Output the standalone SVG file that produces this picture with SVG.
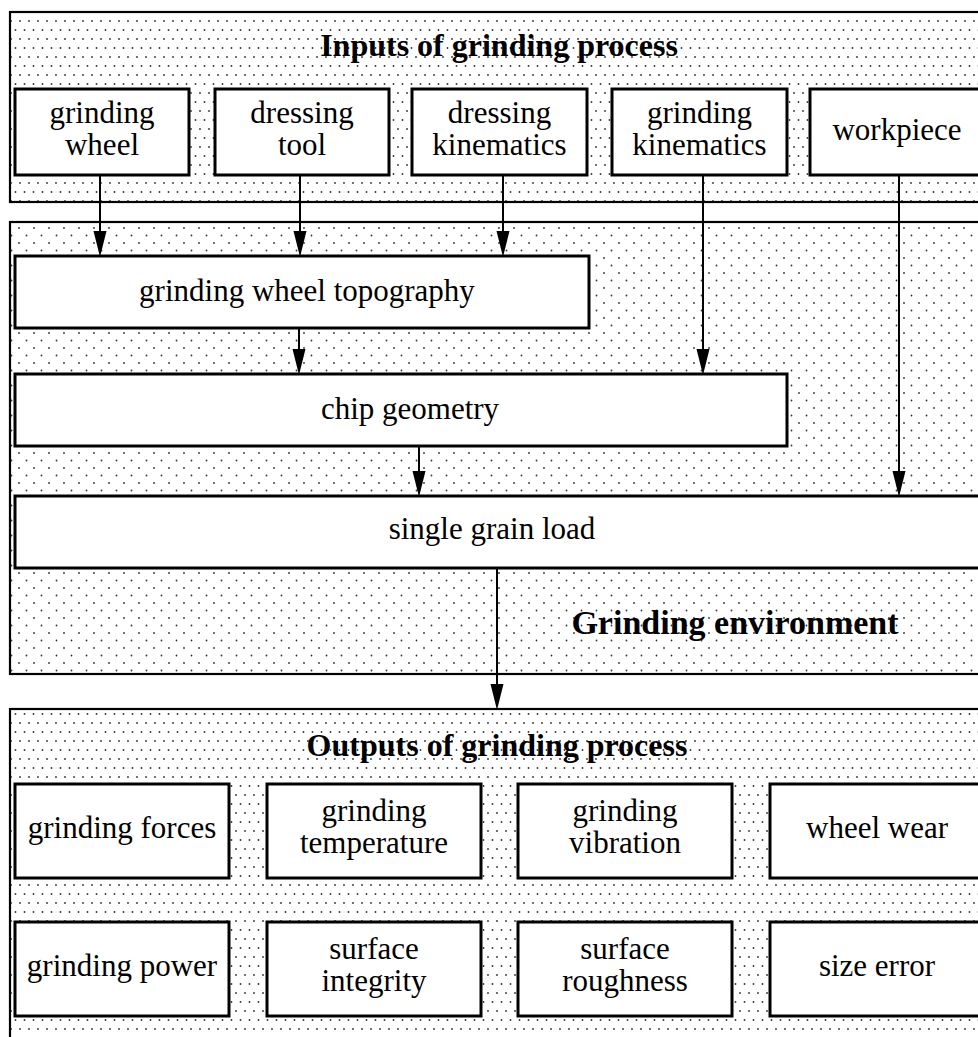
<svg xmlns="http://www.w3.org/2000/svg" width="978" height="1037" viewBox="0 0 978 1037">
<style>
.panel{stroke:#000;stroke-width:2.2}
.box{fill:#fff;stroke:#000;stroke-width:3}
.t{font-family:"Liberation Serif","Times New Roman",serif;font-size:31px;fill:#000;text-anchor:middle}
.h{font-family:"Liberation Serif","Times New Roman",serif;font-size:32px;font-weight:bold;fill:#000;text-anchor:middle}
.c{stroke:#000;stroke-width:2;fill:none;marker-end:url(#ah)}
</style>
<defs>
<pattern id="dense" x="0" y="0" width="9" height="18" patternUnits="userSpaceOnUse">
<rect width="9" height="18" fill="#fff"/>
<circle cx="2" cy="3" r="0.9" fill="#333"/>
<circle cx="6.5" cy="12" r="0.9" fill="#333"/>
</pattern>
<pattern id="sparse" x="0" y="0" width="15" height="15" patternUnits="userSpaceOnUse">
<rect width="15" height="15" fill="#fff"/>
<circle cx="4" cy="3" r="0.9" fill="#333"/>
<circle cx="11.5" cy="10.5" r="0.9" fill="#333"/>
</pattern>
<marker id="ah" markerUnits="userSpaceOnUse" markerWidth="26" markerHeight="14" viewBox="0 0 24 12" refX="12" refY="6" orient="auto">
<path d="M0,0 L24,6 L0,12 z" fill="#000"/>
</marker>
</defs>

<g id="panel-inputs">
<rect class="panel" x="10" y="12" width="990" height="190" fill="url(#dense)"/>
<text class="h" x="499" y="56">Inputs of grinding process</text>
</g>
<g id="panel-environment">
<rect class="panel" x="10" y="222" width="990" height="452" fill="url(#sparse)"/>
<text class="h" x="735" y="634" style="font-size:34px">Grinding environment</text>
</g>
<g id="panel-outputs">
<rect class="panel" x="10" y="709" width="990" height="340" fill="url(#dense)"/>
<text class="h" x="497" y="756">Outputs of grinding process</text>
</g>

<g id="n-grinding-wheel"><rect class="box" x="15" y="89" width="174" height="86"/><text class="t" x="102" y="123">grinding</text><text class="t" x="102" y="155">wheel</text></g>
<g id="n-dressing-tool"><rect class="box" x="215" y="89" width="174" height="86"/><text class="t" x="302" y="123">dressing</text><text class="t" x="302" y="155">tool</text></g>
<g id="n-dressing-kinematics"><rect class="box" x="412" y="89" width="175" height="86"/><text class="t" x="499.5" y="123">dressing</text><text class="t" x="499.5" y="155">kinematics</text></g>
<g id="n-grinding-kinematics"><rect class="box" x="612" y="89" width="175" height="86"/><text class="t" x="699.5" y="123">grinding</text><text class="t" x="699.5" y="155">kinematics</text></g>
<g id="n-workpiece"><rect class="box" x="810" y="89" width="180" height="86"/><text class="t" x="897" y="140">workpiece</text></g>

<g id="n-topography"><rect class="box" x="15" y="256" width="574" height="72"/><text class="t" x="307" y="301">grinding wheel topography</text></g>
<g id="n-chip"><rect class="box" x="15" y="374" width="772" height="72"/><text class="t" x="410" y="419">chip geometry</text></g>
<g id="n-single-grain"><rect class="box" x="15" y="496" width="985" height="72"/><text class="t" x="492" y="539">single grain load</text></g>

<g id="n-forces"><rect class="box" x="15" y="784" width="214" height="94"/><text class="t" x="122" y="838">grinding forces</text></g>
<g id="n-temperature"><rect class="box" x="267" y="784" width="214" height="94"/><text class="t" x="374" y="821">grinding</text><text class="t" x="374" y="853">temperature</text></g>
<g id="n-vibration"><rect class="box" x="518" y="784" width="214" height="94"/><text class="t" x="625" y="821">grinding</text><text class="t" x="625" y="853">vibration</text></g>
<g id="n-wheel-wear"><rect class="box" x="770" y="784" width="230" height="94"/><text class="t" x="877" y="838">wheel wear</text></g>
<g id="n-power"><rect class="box" x="15" y="922" width="214" height="94"/><text class="t" x="122" y="976">grinding power</text></g>
<g id="n-integrity"><rect class="box" x="267" y="922" width="214" height="94"/><text class="t" x="374" y="959">surface</text><text class="t" x="374" y="991">integrity</text></g>
<g id="n-roughness"><rect class="box" x="518" y="922" width="214" height="94"/><text class="t" x="625" y="959">surface</text><text class="t" x="625" y="991">roughness</text></g>
<g id="n-size-error"><rect class="box" x="770" y="922" width="230" height="94"/><text class="t" x="877" y="976">size error</text></g>

<g id="connectors">
<path class="c" d="M100,175 V244"/>
<path class="c" d="M300,175 V244"/>
<path class="c" d="M503,175 V244"/>
<path class="c" d="M703,175 V362"/>
<path class="c" d="M899,175 V484"/>
<path class="c" d="M299,328 V362"/>
<path class="c" d="M419,446 V484"/>
<path class="c" d="M497,568 V697"/>
</g>
</svg>
